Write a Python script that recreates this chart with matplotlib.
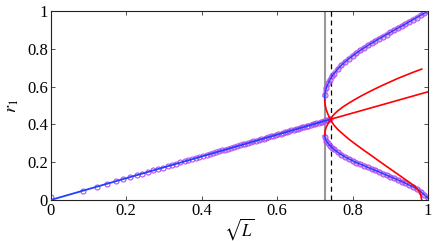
import matplotlib
matplotlib.use('Agg')
import matplotlib.pyplot as plt

plt.rcParams['font.family'] = ['Liberation Serif', 'DejaVu Serif']
plt.rcParams['mathtext.fontset'] = 'stix'

# stable branch before the fold (markers)
lin_x = [0.0, 0.086, 0.122, 0.149, 0.172, 0.192, 0.211, 0.228, 0.243, 0.258,
         0.272, 0.285, 0.298, 0.310, 0.322, 0.333, 0.344, 0.355, 0.365, 0.375,
         0.385, 0.394, 0.404, 0.413, 0.422, 0.430, 0.439, 0.447, 0.455, 0.463,
         0.471, 0.479, 0.487, 0.494, 0.502, 0.509, 0.516, 0.524, 0.531, 0.537,
         0.544, 0.551, 0.558, 0.564, 0.571, 0.577, 0.584, 0.590, 0.596, 0.602,
         0.609, 0.615, 0.621, 0.627, 0.632, 0.638, 0.644, 0.650, 0.655, 0.661,
         0.667, 0.672, 0.678, 0.683, 0.689, 0.694, 0.699, 0.704, 0.710, 0.715,
         0.720, 0.725, 0.730, 0.735, 0.740]
lin_r = [0.014, 0.050, 0.070, 0.086, 0.099, 0.111, 0.122, 0.132, 0.140, 0.149,
         0.157, 0.165, 0.172, 0.179, 0.186, 0.192, 0.199, 0.205, 0.211, 0.216,
         0.222, 0.227, 0.233, 0.238, 0.243, 0.248, 0.253, 0.258, 0.263, 0.267,
         0.272, 0.276, 0.281, 0.285, 0.290, 0.294, 0.298, 0.302, 0.306, 0.310,
         0.314, 0.318, 0.322, 0.325, 0.329, 0.333, 0.337, 0.340, 0.344, 0.347,
         0.351, 0.355, 0.358, 0.362, 0.365, 0.368, 0.372, 0.375, 0.378, 0.381,
         0.385, 0.388, 0.391, 0.394, 0.397, 0.400, 0.403, 0.406, 0.410, 0.413,
         0.415, 0.418, 0.421, 0.424, 0.427]
lin_line_x = [0.0, 0.741]
lin_line_r = [0.0, 0.427]

# upper stable branch
up_x = [0.726, 0.730, 0.735, 0.740, 0.745, 0.750, 0.760, 0.770, 0.780, 0.790,
        0.800, 0.810, 0.820, 0.830, 0.840, 0.850, 0.860, 0.870, 0.880, 0.890,
        0.900, 0.910, 0.920, 0.930, 0.940, 0.950, 0.960, 0.970, 0.980, 0.990, 1.000]
up_r = [0.556, 0.592, 0.617, 0.637, 0.654, 0.668, 0.692, 0.713, 0.731, 0.748,
        0.763, 0.778, 0.792, 0.805, 0.818, 0.830, 0.842, 0.854, 0.865, 0.876,
        0.888, 0.899, 0.910, 0.921, 0.932, 0.944, 0.955, 0.966, 0.978, 0.989, 1.000]

# lower stable branch
lo_x = up_x
lo_r = [0.335, 0.315, 0.300, 0.288, 0.278, 0.269, 0.254, 0.240, 0.228, 0.218,
        0.208, 0.198, 0.190, 0.182, 0.173, 0.165, 0.157, 0.149, 0.140, 0.132,
        0.123, 0.115, 0.106, 0.098, 0.089, 0.079, 0.070, 0.059, 0.045, 0.027, 0.009]

# unstable branches
ua_x = [0.726, 0.727, 0.730, 0.735, 0.741, 0.745, 0.750, 0.760, 0.775, 0.790,
        0.810, 0.830, 0.850, 0.870, 0.890, 0.910, 0.930, 0.950, 0.965, 0.975,
        0.980, 0.983]
ua_r = [0.530, 0.505, 0.478, 0.452, 0.427, 0.412, 0.398, 0.375, 0.348, 0.322,
        0.292, 0.263, 0.235, 0.206, 0.178, 0.150, 0.122, 0.094, 0.072, 0.050,
        0.030, 0.0]
ub_x = [0.726, 0.727, 0.730, 0.735, 0.741, 0.745, 0.750, 0.760, 0.775, 0.790,
        0.805, 0.820, 0.840, 0.860, 0.880, 0.900, 0.920, 0.940, 0.960, 0.983]
ub_r = [0.345, 0.365, 0.385, 0.405, 0.427, 0.440, 0.452, 0.471, 0.494, 0.513,
        0.531, 0.548, 0.569, 0.589, 0.608, 0.626, 0.644, 0.660, 0.676, 0.693]
uc_x = [0.741, 1.0]
uc_r = [0.427, 0.573]

fold_x = 0.727
cross_x = 0.742

fig = plt.figure(figsize=(4.36, 2.41), dpi=100)
ax = fig.add_axes([0.116, 0.170, 0.866, 0.784])

ax.axvline(fold_x, color='#999999', lw=1.5, zorder=1)
ax.axvline(cross_x, color='black', lw=0.9, ls=(0, (4, 3)), zorder=1)

purple = '#b050f0'
mk = dict(ls='none', marker='o', ms=3.6, mfc='none', mec=purple, mew=0.8, zorder=2)
ax.plot(lin_x, lin_r, **mk)
ax.plot(up_x, up_r, **mk)
ax.plot(lo_x, lo_r, **mk)
ax.plot(up_x, up_r, color=purple, lw=3.6, alpha=0.5, zorder=2)
ax.plot(lo_x, lo_r, color=purple, lw=3.6, alpha=0.5, zorder=2)

ax.plot(lin_line_x, lin_line_r, color='#2040ff', lw=1.3, zorder=3)
ax.plot([ua_x[0]] + up_x, [ua_r[0]] + up_r, color='#2040ff', lw=1.0, zorder=3)
ax.plot([ub_x[0]] + lo_x, [ub_r[0]] + lo_r, color='#2040ff', lw=1.0, zorder=3)

ax.plot(ua_x, ua_r, color='#ff0000', lw=1.2, zorder=4)
ax.plot(ub_x, ub_r, color='#ff0000', lw=1.2, zorder=4)
ax.plot(uc_x, uc_r, color='#ff0000', lw=1.2, zorder=4)

ax.set_xlim(0, 1)
ax.set_ylim(0, 1)
ticks = [0, 0.2, 0.4, 0.6, 0.8, 1]
tick_labels = ['0', '0.2', '0.4', '0.6', '0.8', '1']
ax.set_xticks(ticks)
ax.set_xticklabels(tick_labels)
ax.set_yticks(ticks)
ax.set_yticklabels(tick_labels)
ax.tick_params(direction='in', length=3, width=0.6, top=True, right=True,
               labelsize=12, pad=2, color='#333333')
for s in ax.spines.values():
    s.set_linewidth(0.8)
    s.set_color('#222222')

ax.set_xlabel(r'$\sqrt{L}$', fontsize=12, labelpad=-2)
ax.set_ylabel(r'$r_1$', fontsize=13, labelpad=4)

fig.savefig('out.png', dpi=100)
